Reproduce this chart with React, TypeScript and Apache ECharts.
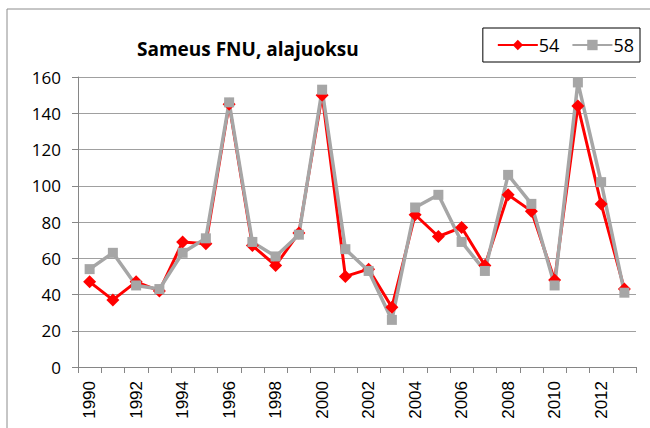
import React, { useEffect, useRef } from "react";
import * as echarts from "echarts";

const years = ["1990","1991","1992","1993","1994","1995","1996","1997","1998","1999","2000","2001","2002","2003","2004","2005","2006","2007","2008","2009","2010","2011","2012","2013"];
const series54 = [47, 37, 47, 42, 69, 68, 145, 67, 56, 74, 150, 50, 54, 33, 84, 72, 77, 56, 95, 86, 48, 144, 90, 43];
const series58 = [54, 63, 45, 43, 63, 71, 146, 69, 61, 73, 153, 65, 53, 26, 88, 95, 69, 53, 106, 90, 45, 157, 102, 41];
const yTicks = { min: 0, max: 160, interval: 20 };
const titleText = "Sameus FNU, alajuoksu";

export default function App() {
  const ref = useRef<HTMLDivElement>(null);
  useEffect(() => {
    if (!ref.current) return;
    const chart = echarts.init(ref.current, undefined, { renderer: "svg" });
    chart.setOption({
      animation: false,
      backgroundColor: "#ffffff",
      graphic: [
        {
          type: "rect",
          shape: { x: 7, y: 9, width: 700, height: 500 },
          style: { fill: "none", stroke: "#8c8c8c", lineWidth: 1 },
          silent: true,
        },
      ],
      title: {
        text: titleText,
        left: 132,
        top: 34,
        textStyle: { fontFamily: "Open Sans", fontWeight: "bold", fontSize: 19, color: "#000" },
      },
      legend: {
        right: 10,
        top: 28,
        width: 157,
        height: 35,
        padding: [8, 6, 8, 14],
        borderColor: "#000",
        borderWidth: 1,
        itemWidth: 40,
        itemHeight: 13,
        itemGap: 12,
        textStyle: { fontFamily: "Open Sans", fontSize: 18, color: "#000", padding: [0, 0, 0, -4] },
        data: ["54", "58"],
      },
      grid: { left: 78, right: 14, top: 77, bottom: 61, containLabel: false },
      xAxis: {
        type: "category",
        data: years,
        boundaryGap: true,
        axisLine: { lineStyle: { color: "#868686", width: 1 } },
        axisTick: { show: true, interval: 0, length: 6, lineStyle: { color: "#868686" } },
        axisLabel: {
          interval: 1,
          rotate: 90,
          margin: 14,
          fontFamily: "Liberation Sans",
          fontSize: 17,
          color: "#000",
        },
      },
      yAxis: {
        type: "value",
        min: yTicks.min,
        max: yTicks.max,
        interval: yTicks.interval,
        axisLine: { show: true, lineStyle: { color: "#868686", width: 1 } },
        axisTick: { show: true, length: 6, lineStyle: { color: "#868686" } },
        splitLine: { lineStyle: { color: "#a0a0a0", width: 1 } },
        axisLabel: { margin: 17, fontFamily: "Open Sans", fontSize: 17, color: "#000" },
      },
      series: [
        {
          name: "54",
          type: "line",
          data: series54,
          symbol: "diamond",
          symbolSize: 13,
          lineStyle: { color: "#ff0000", width: 3 },
          itemStyle: { color: "#ff0000" },
        },
        {
          name: "58",
          type: "line",
          data: series58,
          symbol: "rect",
          symbolSize: 10,
          lineStyle: { color: "#a6a6a6", width: 3.5 },
          itemStyle: { color: "#a6a6a6" },
        },
      ],
    });
    return () => chart.dispose();
  }, []);
  return (
    <div
      ref={ref}
      style={{ position: "fixed", left: 0, top: 0, width: 650, height: 428 }}
    />
  );
}
